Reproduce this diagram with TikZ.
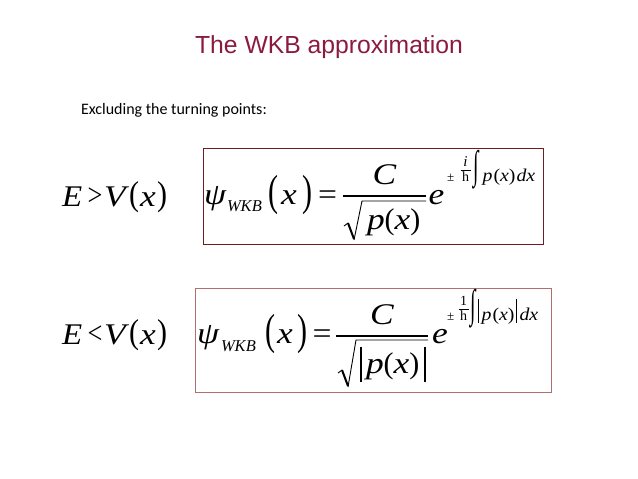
\documentclass[tikz,border=0pt]{standalone}
\usepackage{fontspec}
\setmainfont{Liberation Serif}
\newfontfamily\sansf{Liberation Sans}
\newfontfamily\calf{Carlito}
\usepackage{graphicx}
\newcommand\wideit[1]{\scalebox{1.18}[1]{#1}}
\newcommand\wideup[1]{\scalebox{1.12}[1]{#1}}
\definecolor{titlecol}{HTML}{8B1A42}
\definecolor{boxa}{HTML}{6E1E22}
\definecolor{boxb}{HTML}{B07070}
\tikzset{
  pc/.style={inner sep=0pt, outer sep=0pt, anchor=base west},
  big/.style={pc, font=\fontsize{30}{32}\selectfont},
  rel/.style={pc, font=\fontsize{31}{32}\selectfont},
  sub/.style={pc, font=\fontsize{16.5}{18}\selectfont\itshape},
  ex/.style={pc, font=\fontsize{18}{19}\selectfont},
  small/.style={pc, font=\fontsize{13}{14}\selectfont},
  fthin/.style={line width=0.6pt},
  fbar/.style={line width=1.2pt},
  radthin/.style={line width=0.9pt, line join=miter},
  radthick/.style={line width=2pt},
  abs/.style={line width=1.1pt},
  boxone/.style={draw=boxa, line width=1pt},
  boxtwo/.style={draw=boxb, line width=1pt},
}
\begin{document}
\begin{tikzpicture}[x=1pt,y=-1pt]
\useasboundingbox (0,0) rectangle (638,479);
% title and subtitle
\node[pc, anchor=base, font=\sansf\fontsize{24.7}{30}\selectfont, text=titlecol] (title) at (329,53) {The WKB approximation};
\node[pc, font=\calf\fontsize{16}{18}\selectfont] (excl) at (81,114) {Excluding the turning points:};
% boxes
\draw[boxone] (203,148) rectangle (543,244);
\draw[boxtwo] (195,288) rectangle (551,392);
% row 1 left
\node[big] (aE) at (62,206) {\scalebox{1.1}[1]{\textit{E}}};
\node[rel] (agt) at (87.5,205.5) {\scalebox{0.85}[1]{>}};
\node[big] (aV) at (104,206) {\wideit{\textit{V}}};
\node[big] (alp) at (129,205) {\scalebox{1}[1.15]{(}};
\node[big] (ax) at (140,206) {\wideit{\textit{x}}};
\node[big] (arp) at (157,205) {\scalebox{1}[1.15]{)}};
% row 1 formula
\node[big] (psi1) at (204,204) {\wideit{\textit{ψ}}};
\node[sub] (wkb1) at (227,211) {WKB};
\node[big] (lp1) at (268,205) {\scalebox{1}[1.45]{(}};
\node[big] (x1) at (281,204) {\wideit{\textit{x}}};
\node[big] (rp1) at (302,205) {\scalebox{1}[1.45]{)}};
\node[big] (eq1) at (318,204) {\wideup{=}};
\coordinate (b1l) at (343,196);
\coordinate (b1r) at (426,196);
\draw[fbar] (b1l) -- (b1r);
\node[big, anchor=base] (C1) at (384.5,184) {\wideit{\textit{C}}};
\draw[radthin] (344,226) -- (348,223);
\draw[radthick] (348,223) -- (354,239);
\draw[radthin] (354,240) -- (362,201) -- (426,201);
\node[big] (p1) at (367,229) {\wideit{\textit{p}}(\wideit{\textit{x}})};
\node[big] (e1) at (428.5,204) {\wideit{\textit{e}}};
\node[small] (pm1) at (447,181) {±};
\node[pc, anchor=base, font=\fontsize{15}{16}\selectfont\itshape] (i1) at (465.5,166) {i};
\draw[fthin] (460.5,170) -- (470.5,170);
\node[pc, anchor=base, font=\fontsize{14}{16}\selectfont] (h1) at (465.5,181) {h};
\node[pc, anchor=center, font=\fontsize{22}{22}\selectfont] (int1) at (476,170) {\scalebox{0.9}[1.8]{∫}};
\node[ex] (px1) at (482.5,181) {\scalebox{1.1}[1]{\textit{p}\kern1pt(\textit{x})\kern1pt\textit{dx}}};
% row 2 left
\node[big] (bE) at (62,344) {\scalebox{1.1}[1]{\textit{E}}};
\node[rel] (blt) at (87.5,343.5) {\scalebox{0.85}[1]{<}};
\node[big] (bV) at (104,344) {\wideit{\textit{V}}};
\node[big] (blp) at (129,343) {\scalebox{1}[1.15]{(}};
\node[big] (bx) at (140,344) {\wideit{\textit{x}}};
\node[big] (brp) at (157,343) {\scalebox{1}[1.15]{)}};
% row 2 formula
\node[big] (psi2) at (197,343) {\wideit{\textit{ψ}}};
\node[sub] (wkb2) at (221,351) {WKB};
\node[big] (lp2) at (265,344) {\scalebox{1}[1.45]{(}};
\node[big] (x2) at (277,343) {\wideit{\textit{x}}};
\node[big] (rp2) at (297,344) {\scalebox{1}[1.45]{)}};
\node[big] (eq2) at (312.5,343) {\wideup{=}};
\coordinate (b2l) at (336,336);
\coordinate (b2r) at (428,336);
\draw[fbar] (b2l) -- (b2r);
\node[big, anchor=base] (C2) at (382,324) {\wideit{\textit{C}}};
\draw[radthin] (338,373) -- (342,370);
\draw[radthick] (342,370) -- (348,386);
\draw[radthin] (348,387) -- (356,340) -- (428,340);
\coordinate (a1t) at (361,347);
\coordinate (a1b) at (361,382);
\coordinate (a2t) at (425,347);
\coordinate (a2b) at (425,382);
\draw[abs] (a1t) -- (a1b);
\draw[abs] (a2t) -- (a2b);
\node[big] (p2) at (366,373) {\wideit{\textit{p}}(\wideit{\textit{x}})};
\node[big] (e2) at (432,343) {\wideit{\textit{e}}};
\node[small] (pm2) at (447,320) {±};
\node[pc, anchor=base, font=\fontsize{14}{16}\selectfont] (one2) at (463.5,305) {1};
\draw[fthin] (458.5,309) -- (468.5,309);
\node[pc, anchor=base, font=\fontsize{14}{16}\selectfont] (h2) at (463.5,320) {h};
\node[pc, anchor=center, font=\fontsize{22}{22}\selectfont] (int2) at (473,309) {\scalebox{0.9}[1.8]{∫}};
\coordinate (c1t) at (478.5,299);
\coordinate (c1b) at (478.5,323);
\coordinate (c2t) at (516.5,299);
\coordinate (c2b) at (516.5,323);
\draw[fthin] (c1t) -- (c1b);
\draw[fthin] (c2t) -- (c2b);
\node[ex] (px2) at (481.5,320) {\scalebox{1.1}[1]{\textit{p}\kern1pt(\textit{x})}};
\node[ex] (dx2) at (519.5,320) {\scalebox{1.1}[1]{\textit{dx}}};
\end{tikzpicture}
\end{document}
